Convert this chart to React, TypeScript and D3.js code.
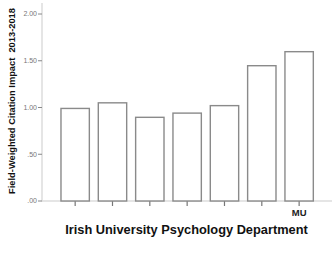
import React from "react";
import * as d3 from "d3";

const categories = ["U1", "U2", "U3", "U4", "U5", "U6", "MU"];
const tickLabels = ["", "", "", "", "", "", "MU"];
const values = [0.99, 1.05, 0.895, 0.94, 1.02, 1.447, 1.597];
const yTicks = [0, 0.5, 1.0, 1.5, 2.0];
const yTickLabels = [".00", ".50", "1.00", "1.50", "2.00"];

const W = 336;
const H = 255;

export default function App() {
  const y = d3.scaleLinear().domain([0, 2]).range([201, 14]);
  const x = d3
    .scaleBand<string>()
    .domain(categories)
    .range([56.5, 317.8])
    .paddingInner(0.24)
    .paddingOuter(0.12);
  const axisColor = "#dcdcdc";
  return (
    <svg
      width={W}
      height={H}
      style={{ position: "absolute", left: 0, top: 0, background: "#fff" }}
      fontFamily="'Liberation Sans', Arial, sans-serif"
    >
      {/* y axis */}
      <line x1={42} x2={42} y1={3} y2={201.5} stroke={axisColor} strokeWidth={1.5} />
      {yTicks.map((t, i) => (
        <g key={t}>
          <line x1={38} x2={42} y1={y(t)} y2={y(t)} stroke="#888" strokeWidth={1} />
          <text
            x={37}
            y={y(t)}
            dy="0.35em"
            textAnchor="end"
            fontSize={7}
            fill="#777"
          >
            {yTickLabels[i]}
          </text>
        </g>
      ))}
      {/* x axis */}
      <line x1={42} x2={332} y1={201} y2={201} stroke={axisColor} strokeWidth={1.5} />
      {categories.map((c, i) => {
        const cx = (x(c) as number) + x.bandwidth() / 2;
        return (
          <g key={c}>
            <line x1={cx} x2={cx} y1={201} y2={206} stroke="#777" strokeWidth={1.2} />
            <text
              x={cx}
              y={213}
              dy="0.35em"
              textAnchor="middle"
              fontSize={9.5}
              fontWeight="bold"
              fill="#222"
            >
              {tickLabels[i]}
            </text>
          </g>
        );
      })}
      {/* bars */}
      {categories.map((c, i) => (
        <rect
          key={c}
          x={x(c)}
          y={y(values[i])}
          width={x.bandwidth()}
          height={y(0) - y(values[i])}
          fill="#fff"
          stroke="#8a8a8a"
          strokeWidth={1.4}
        />
      ))}
      {/* titles */}
      <text
        x={186.5}
        y={230}
        dy="0.35em"
        textAnchor="middle"
        fontSize={12.8}
        fontWeight="bold"
        fill="#111"
      >
        Irish University Psychology Department
      </text>
      <text
        transform={`translate(12,101) rotate(-90)`}
        textAnchor="middle"
        dy="0.35em"
        fontSize={9.3}
        fontWeight="bold"
        fill="#111"
        style={{ whiteSpace: "pre" }}
      >
        {"Field-Weighted Citation Impact  2013-2018"}
      </text>
    </svg>
  );
}
